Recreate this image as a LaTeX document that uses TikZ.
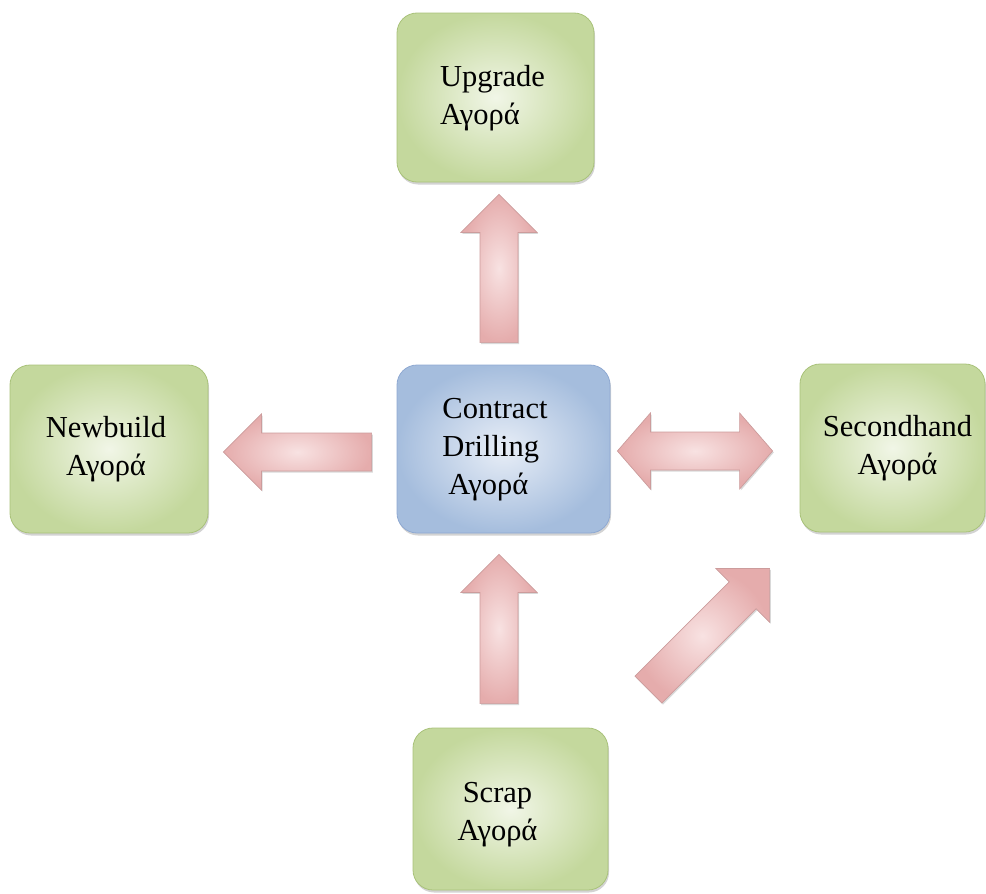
\documentclass[tikz,border=0pt]{standalone}
\usepackage{fontspec}
\setmainfont{Liberation Serif}
\usetikzlibrary{calc,shadows}

\definecolor{grnin}{HTML}{F1F6E7}
\definecolor{grnout}{HTML}{C4D89D}
\definecolor{grnline}{HTML}{A9C27A}
\definecolor{bluin}{HTML}{E8EEF7}
\definecolor{bluout}{HTML}{A5BDDD}
\definecolor{bluline}{HTML}{8FA9D2}
\definecolor{pinkin}{HTML}{F8E2E2}
\definecolor{pinkout}{HTML}{E5ACAC}
\definecolor{pinkline}{HTML}{CC9C9C}

\tikzset{
  market/.style={rounded corners=20pt, line width=0.8pt,
    font=\fontsize{30.5}{38}\selectfont,
    drop shadow={shadow xshift=1pt, shadow yshift=-2.5pt, opacity=0.35}},
  greenbox/.style={market, draw=grnline, inner color=grnin, outer color=grnout},
  bluebox/.style={market, draw=bluline, inner color=bluin, outer color=bluout},
  arrowbody/.style={draw=pinkline, line width=0.7pt, line join=miter,
    inner color=pinkin, outer color=pinkout,
    drop shadow={shadow xshift=1.2pt, shadow yshift=-1.5pt, opacity=0.3}},
}

% stacked label lines, column alignment as optional argument
\newcommand\mlines[2][c]{\begin{tabular}{@{}#1@{}}#2\end{tabular}}

% block arrow from tail #1 to tip #2
\newcommand\blockarrow[2]{%
  \coordinate (ba-h) at ($(#2)!38pt!(#1)$);
  \path[arrowbody] ($(#1)!19pt!90:(#2)$) -- ($(ba-h)!19pt!90:(#2)$)
    -- ($(ba-h)!38pt!90:(#2)$) -- (#2) -- ($(ba-h)!38pt!-90:(#2)$)
    -- ($(ba-h)!19pt!-90:(#2)$) -- ($(#1)!19pt!-90:(#2)$) -- cycle;}

% block arrow with heads at both ends #1 and #2
\newcommand\dblockarrow[2]{%
  \coordinate (ba-a) at ($(#1)!33pt!(#2)$);
  \coordinate (ba-b) at ($(#2)!33pt!(#1)$);
  \path[arrowbody] (#1) -- ($(ba-a)!38pt!90:(#2)$) -- ($(ba-a)!19pt!90:(#2)$)
    -- ($(ba-b)!19pt!90:(#2)$) -- ($(ba-b)!38pt!90:(#2)$) -- (#2)
    -- ($(ba-b)!38pt!-90:(#2)$) -- ($(ba-b)!19pt!-90:(#2)$)
    -- ($(ba-a)!19pt!-90:(#2)$) -- ($(ba-a)!38pt!-90:(#2)$) -- cycle;}

\begin{document}
\begin{tikzpicture}[x=1pt,y=-1pt]
  \useasboundingbox (0,0) rectangle (986,894);

  % markets
  \node[greenbox, minimum width=197pt, minimum height=169pt] (up) at (495.5,97.5)
    {\mlines[l]{Upgrade\\Αγορά}\hspace*{6pt}};
  \node[bluebox, minimum width=213pt, minimum height=168pt] (cd) at (503.5,449)
    {\mlines[l]{Contract\\Drilling\\\hspace*{6pt}Αγορά}\hspace*{17pt}};
  \node[greenbox, minimum width=198pt, minimum height=168pt] (nb) at (109,449)
    {\mlines{Newbuild\\Αγορά}\hspace*{6pt}};
  \node[greenbox, minimum width=185pt, minimum height=168pt] (sh) at (892.5,448)
    {\hspace*{10pt}\mlines{Secondhand\\Αγορά}};
  \node[greenbox, minimum width=195pt, minimum height=162pt] (sc) at (510.5,809)
    {\raisebox{-5pt}[\height][\depth]{\mlines{Scrap\\Αγορά}}\hspace*{26pt}};

  % arrow ends
  \coordinate (cdUpT) at ($(cd.north)+(-4.5,-22)$);
  \coordinate (cdUpH) at ($(up.south)+(3.5,12)$);
  \coordinate (cdNbT) at ($(cd.west)+(-25,3)$);
  \coordinate (cdNbH) at ($(nb.east)+(15,3)$);
  \coordinate (cdShA) at ($(cd.east)+(7,2)$);
  \coordinate (cdShB) at ($(sh.west)+(-27,3)$);
  \coordinate (scCdT) at ($(sc.north)+(-11.5,-24)$);
  \coordinate (scCdH) at ($(cd.south)+(-4.5,21)$);
  \coordinate (scShT) at ($(sc.north east)+(40,-38)$);
  \coordinate (scShH) at ($(sh.south west)+(-30,36)$);

  % flows
  \blockarrow{cdUpT}{cdUpH}
  \blockarrow{cdNbT}{cdNbH}
  \dblockarrow{cdShA}{cdShB}
  \blockarrow{scCdT}{scCdH}
  \blockarrow{scShT}{scShH}
\end{tikzpicture}
\end{document}
